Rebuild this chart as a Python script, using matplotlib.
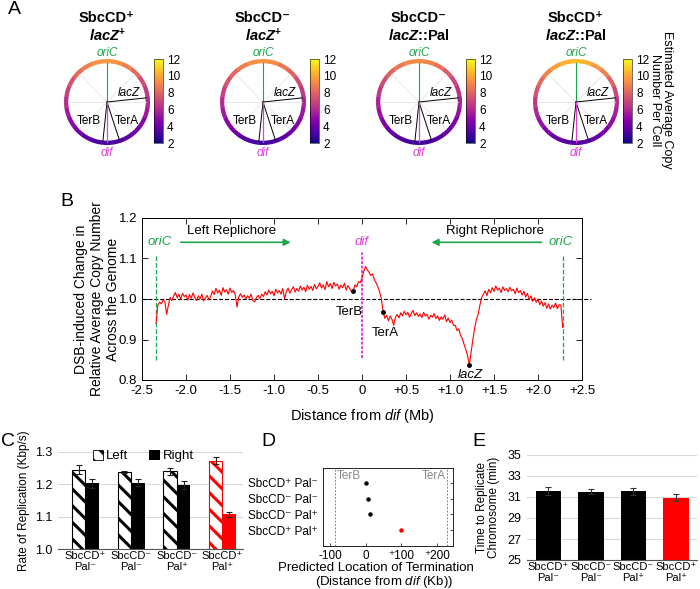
import numpy as np
import matplotlib
matplotlib.use('Agg')
import matplotlib.pyplot as plt
from matplotlib.patches import Wedge, Patch
from matplotlib.collections import PatchCollection
from matplotlib.colors import Normalize

plt.rcParams['font.family'] = ['Liberation Sans', 'DejaVu Sans']
plt.rcParams['mathtext.fontset'] = 'custom'
plt.rcParams['mathtext.rm'] = 'Liberation Sans'
plt.rcParams['mathtext.it'] = 'Liberation Sans:italic'
plt.rcParams['mathtext.bf'] = 'Liberation Sans:bold'
plt.rcParams['mathtext.bfit'] = 'Liberation Sans:bold:italic'
plt.rcParams['hatch.linewidth'] = 2.2

GREEN = '#1fa64a'
MAGENTA = '#e03ce0'

# ---------------- data ----------------
# panel A: titles and copy number around the chromosome (24 bins, clockwise from oriC)
title_top = ["SbcCD\u207a", "SbcCD\u207b", "SbcCD\u207b", "SbcCD\u207a"]
title_bot = [r"$\mathbfit{lacZ}^{\mathbf{+}}$", r"$\mathbfit{lacZ}^{\mathbf{+}}$",
             r"$\mathbfit{lacZ}$::Pal", r"$\mathbfit{lacZ}$::Pal"]
ring_sbc_lac = [9.6, 9.4, 8.8, 8.1, 7.3, 6.6, 6.0, 5.4, 4.8, 4.2, 3.7, 3.3,
                3.1, 3.3, 3.7, 4.3, 4.9, 5.5, 6.2, 6.8, 7.5, 8.2, 8.9, 9.4]
ring_nosbc_lac = [9.5, 9.2, 8.6, 8.0, 7.2, 6.5, 5.9, 5.3, 4.7, 4.1, 3.6, 3.2,
                  3.0, 3.2, 3.6, 4.2, 4.8, 5.4, 6.1, 6.8, 7.4, 8.1, 8.8, 9.3]
ring_nosbc_pal = [9.3, 9.0, 8.4, 7.7, 7.0, 6.3, 5.7, 5.1, 4.5, 4.0, 3.5, 3.1,
                  2.9, 3.1, 3.5, 4.0, 4.6, 5.2, 5.8, 6.5, 7.2, 7.9, 8.6, 9.1]
ring_sbc_pal = [10.6, 10.3, 9.6, 8.8, 8.0, 7.1, 6.2, 5.6, 5.0, 4.4, 3.9, 3.5,
                3.3, 3.5, 3.9, 4.5, 5.2, 5.9, 6.6, 7.4, 8.2, 9.0, 9.8, 10.3]
rings = [ring_sbc_lac, ring_nosbc_lac, ring_nosbc_pal, ring_sbc_pal]

# panel B: DSB-induced change in relative copy number (0.02 Mb bins from -2.34 Mb)
ratio = [
    0.940, 0.985, 0.992, 0.988, 0.998, 0.993, 0.962, 0.985, 1.004, 0.996,
    1.008, 1.016, 1.003, 1.012, 0.999, 1.014, 1.006, 1.010, 0.997, 1.011,
    1.002, 1.015, 1.004, 0.996, 1.008, 1.000, 1.012, 0.995, 1.003, 1.009,
    0.998, 1.006, 1.020, 1.011, 1.026, 1.015, 1.022, 1.009, 1.028, 1.017,
    1.023, 1.012, 1.027, 1.016, 1.021, 1.010, 0.980, 1.006, 1.013, 1.004,
    1.010, 1.000, 1.008, 1.002, 1.012, 0.996, 0.993, 1.003, 1.009, 1.001,
    1.012, 1.006, 1.018, 1.010, 1.022, 1.013, 1.019, 1.008, 1.024, 1.015,
    1.021, 1.012, 1.026, 1.000, 1.018, 1.027, 1.014, 1.023, 1.030, 1.017,
    1.026, 1.019, 1.032, 1.022, 1.029, 1.018, 1.034, 1.024, 1.031, 1.021,
    1.036, 1.025, 1.031, 1.040, 1.027, 1.035, 1.023, 1.043, 1.030, 1.038,
    1.026, 1.041, 1.032, 1.037, 1.024, 1.034, 1.028, 1.039, 1.022, 1.033,
    1.026, 1.018, 1.020, 1.035, 1.030, 1.043, 1.040, 1.052, 1.068, 1.080,
    1.072, 1.066, 1.058, 1.062, 1.048, 1.040, 1.030, 1.018, 1.000, 0.969,
    0.952, 0.960, 0.946, 0.958, 0.950, 0.935, 0.955, 0.962, 0.953, 0.966,
    0.958, 0.970, 0.961, 0.967, 0.955, 0.964, 0.972, 0.959, 0.966, 0.957,
    0.963, 0.954, 0.967, 0.958, 0.962, 0.950, 0.960, 0.955, 0.964, 0.952,
    0.958, 0.947, 0.956, 0.950, 0.961, 0.944, 0.953, 0.942, 0.948, 0.935,
    0.935, 0.922, 0.926, 0.910, 0.902, 0.888, 0.875, 0.860, 0.837, 0.868,
    0.900, 0.928, 0.950, 0.962, 0.985, 1.004, 1.012, 1.020, 1.008, 1.024,
    1.015, 1.028, 1.019, 1.032, 1.022, 1.027, 1.016, 1.030, 1.021, 1.026,
    1.018, 1.029, 1.020, 1.024, 1.013, 1.027, 1.016, 1.021, 1.010, 1.019,
    1.005, 1.014, 0.998, 1.008, 0.994, 1.003, 0.992, 1.000, 0.986, 0.995,
    0.982, 0.991, 0.977, 0.988, 0.975, 0.985, 0.979, 0.990, 0.976, 0.986,
    0.985, 0.930,
]
genome_x = np.linspace(-2.34, 2.28, len(ratio))
ori_left, ori_right = -2.34, 2.28
terb_pos, tera_pos, lacz_pos = -0.10, 0.24, 1.22

# panels C-E: strains
strains = ["SbcCD\u207a\nPal\u207b", "SbcCD\u207b\nPal\u207b",
           "SbcCD\u207b\nPal\u207a", "SbcCD\u207a\nPal\u207a"]
strains_1line = ["SbcCD\u207a Pal\u207b", "SbcCD\u207b Pal\u207b",
                 "SbcCD\u207b Pal\u207a", "SbcCD\u207a Pal\u207a"]
rate_left = [1.245, 1.238, 1.240, 1.273]
rate_left_err = [0.014, 0.002, 0.011, 0.010]
rate_right = [1.203, 1.205, 1.198, 1.107]
rate_right_err = [0.014, 0.011, 0.012, 0.008]
term_loc = [0, 7, 11, 98]
term_err = [4, 3, 3, 5]
terb_kb, tera_kb = -86, 228
rep_time = [31.55, 31.50, 31.55, 30.95]
rep_time_err = [0.40, 0.22, 0.32, 0.30]
bar_colors = ['black', 'black', 'black', 'red']

W, H = 700, 589
fig = plt.figure(figsize=(W / 100, H / 100), dpi=100)


def box(x0, y0, x1, y1):
    return [x0 / W, 1 - y1 / H, (x1 - x0) / W, (y1 - y0) / H]


def ftext(x, y, s, **kw):
    kw.setdefault('ha', 'center')
    kw.setdefault('va', 'center')
    return fig.text(x / W, 1 - y / H, s, **kw)


# ---------------- panel A ----------------
ftext(14, 10, 'A', fontsize=14)
norm = Normalize(2, 12)
centers = [107, 263, 419, 576]
cy = 102
for k, cx in enumerate(centers):
    ax = fig.add_axes(box(cx - 55, cy - 55, cx + 55, cy + 55))
    ax.set_xlim(-55 / 43, 55 / 43)
    ax.set_ylim(-55 / 43, 55 / 43)
    ax.axis('off')
    n = len(rings[k])
    step = 360 / n
    wedges = [Wedge((0, 0), 1.0, 90 - step * i - step / 2 - 0.3,
                    90 - step * i + step / 2 + 0.3, width=0.1) for i in range(n)]
    pc = PatchCollection(wedges, cmap='plasma', norm=norm, edgecolor='none')
    pc.set_array(np.array(rings[k]))
    ax.add_collection(pc)
    for a in range(0, 360, 45):
        r = np.deg2rad(a)
        ax.plot([0, 0.9 * np.sin(r)], [0, 0.9 * np.cos(r)], color='#e3e3e3', lw=0.6)
    ax.plot([0, 0], [0, 0.9], color=GREEN, lw=0.8)
    for ang in [84, 162, 186]:
        r = np.deg2rad(ang)
        ax.plot([0, 0.92 * np.sin(r)], [0, 0.92 * np.cos(r)], color='black', lw=0.7)
    ax.plot([0, 0], [0, -0.92], color=MAGENTA, lw=0.9)
    ax.text(0, 1.13, 'oriC', color=GREEN, style='italic', fontsize=8.5, ha='center', va='center')
    ax.text(0, -1.18, 'dif', color=MAGENTA, style='italic', fontsize=8.5, ha='center', va='center')
    ax.text(0.5, 0.22, 'lacZ', style='italic', fontsize=8.5, ha='center', va='center')
    ax.text(-0.43, -0.44, 'TerB', fontsize=8.5, ha='center', va='center')
    ax.text(0.45, -0.44, 'TerA', fontsize=8.5, ha='center', va='center')
    cax = fig.add_axes(box(cx + 47, 59, cx + 56, 143))
    cb = fig.colorbar(pc, cax=cax, ticks=[2, 4, 6, 8, 10, 12])
    cb.outline.set_linewidth(0.4)
    cax.tick_params(labelsize=8.5, length=0, pad=3)
    ftext(cx, 18, title_top[k], fontsize=10.5, fontweight='bold')
    ftext(cx, 36, title_bot[k], fontsize=10.5, fontweight='bold')
ftext(661, 100, 'Estimated Average Copy\nNumber Per Cell', rotation=270, fontsize=9,
      linespacing=1.0)

# ---------------- panel B ----------------
ftext(67, 202, 'B', fontsize=14)
axb = fig.add_axes(box(142, 218, 582, 380))
axb.plot([-2.5, 2.6], [1.0, 1.0], color='black', ls='--', lw=0.8, clip_on=False, zorder=1)
axb.plot([ori_left, ori_left], [0.85, 1.11], color=GREEN, ls='--', lw=0.9)
axb.plot([ori_right, ori_right], [0.85, 1.11], color=GREEN, ls='--', lw=0.9)
axb.plot([0, 0], [0.855, 1.115], color=MAGENTA, ls=(0, (1.5, 0.8)), lw=1.4)
axb.plot(genome_x, ratio, color='red', lw=0.8, zorder=3)
marks = [terb_pos, tera_pos, lacz_pos]
axb.plot(marks, np.interp(marks, genome_x, ratio), 'o', color='black', ms=2.5, zorder=4)
axb.text(-0.14, 0.969, 'TerB', fontsize=9.5, ha='center', va='center')
axb.text(0.26, 0.916, 'TerA', fontsize=9.5, ha='center', va='center')
axb.text(1.23, 0.812, 'lacZ', fontsize=9.5, style='italic', ha='center', va='center')
axb.text(-2.3, 1.14, 'oriC', color=GREEN, style='italic', fontsize=9.5, ha='center', va='center')
axb.text(2.26, 1.14, 'oriC', color=GREEN, style='italic', fontsize=9.5, ha='center', va='center')
axb.text(0, 1.14, 'dif', color=MAGENTA, style='italic', fontsize=9.5, ha='center', va='center')
axb.text(-1.48, 1.167, 'Left Replichore', fontsize=9.5, ha='center', va='center')
axb.text(1.51, 1.167, 'Right Replichore', fontsize=9.5, ha='center', va='center')
arrow = dict(arrowstyle='-|>', color=GREEN, lw=1.2, mutation_scale=10, shrinkA=0, shrinkB=0)
axb.annotate('', xy=(-0.81, 1.14), xytext=(-2.06, 1.14), arrowprops=arrow)
axb.annotate('', xy=(0.79, 1.14), xytext=(2.04, 1.14), arrowprops=arrow)
axb.set_xlim(-2.5, 2.5)
axb.set_ylim(0.8, 1.2)
bx = np.arange(-2.5, 2.51, 0.5)
axb.set_xticks(bx)
axb.set_xticklabels(['-2.5', '-2.0', '-1.5', '-1.0', '-0.5', '0',
                     '+0.5', '+1.0', '+1.5', '+2.0', '+2.5'])
axb.set_yticks([0.8, 0.9, 1.0, 1.1, 1.2])
axb.set_yticklabels(['0.8', '0.9', '1.0', '1.1', '1.2'])
axb.tick_params(direction='in', top=True, right=True, labelsize=9.5, length=4, width=0.6)
for s in axb.spines.values():
    s.set_linewidth(0.7)
axb.set_xlabel(r'Distance from $\mathit{dif}$ (Mb)', fontsize=10.5, labelpad=7)
ftext(97, 299, 'DSB-induced Change in\nRelative Average Copy Number\nAcross the Genome',
      rotation=90, fontsize=10, linespacing=1.15)

# ---------------- panel C ----------------
ftext(8, 441, 'C', fontsize=14)
axc = fig.add_axes(box(58, 452, 243, 549))
xc = np.arange(len(strains))
w = 0.295
for i in range(len(strains)):
    axc.bar(xc[i] - w / 2, rate_left[i], w, facecolor='white', edgecolor=bar_colors[i],
            hatch='\\\\', lw=0.8, zorder=2)
    axc.bar(xc[i] + w / 2, rate_right[i], w, color=bar_colors[i], zorder=2)
axc.errorbar(xc - w / 2, rate_left, yerr=rate_left_err, fmt='none', ecolor='#222222',
             elinewidth=0.8, capsize=2.5, capthick=0.8, zorder=3)
axc.errorbar(xc + w / 2, rate_right, yerr=rate_right_err, fmt='none', ecolor='#222222',
             elinewidth=0.8, capsize=2.5, capthick=0.8, zorder=3)
axc.set_xlim(-0.6, 3.45)
axc.set_ylim(1.0, 1.3)
axc.set_yticks([1.0, 1.1, 1.2, 1.3])
axc.set_yticklabels(['1.0', '1.1', '1.2', '1.3'])
axc.set_xticks(xc)
axc.set_xticklabels(strains, fontsize=8, linespacing=1.15)
axc.yaxis.grid(True, color='#d9d9d9', lw=0.8, zorder=0)
axc.set_axisbelow(True)
for s in ['left', 'top', 'right']:
    axc.spines[s].set_visible(False)
axc.spines['bottom'].set_color('#555555')
axc.tick_params(axis='y', length=0, labelsize=9, pad=4)
axc.tick_params(axis='x', length=0, pad=1.5)
axc.set_ylabel('Rate of Replication (Kbp/s)', fontsize=8.5, labelpad=4)
handles = [Patch(facecolor='white', edgecolor='black', hatch='\\\\', lw=0.6),
           Patch(facecolor='black')]
axc.legend(handles, ['Left', 'Right'], loc='upper left', bbox_to_anchor=(0.16, 1.08),
           ncol=2, frameon=False, fontsize=9.5, handlelength=0.8, handleheight=0.8,
           handletextpad=0.2, columnspacing=1.6, borderaxespad=0)

# ---------------- panel D ----------------
ftext(268, 442, 'D', fontsize=14)
axd = fig.add_axes(box(323, 468, 453, 546))
yd = np.arange(len(strains_1line))
axd.axvline(terb_kb, color='#888888', ls=(0, (2, 1.5)), lw=0.7)
axd.axvline(tera_kb, color='#888888', ls=(0, (2, 1.5)), lw=0.7)
for i in range(len(yd)):
    axd.errorbar(term_loc[i], yd[i], xerr=term_err[i], fmt='o', ms=2.2,
                 color=bar_colors[i], elinewidth=0.6, capsize=0)
axd.text(terb_kb + 3, -0.4, 'TerB', color='#888888', fontsize=8.5, ha='left', va='center')
axd.text(tera_kb - 3, -0.4, 'TerA', color='#888888', fontsize=8.5, ha='right', va='center')
axd.set_xlim(-121, 245)
axd.set_ylim(4.0, -0.93)
axd.set_xticks([-100, 0, 100, 200])
axd.set_xticklabels(['-100', '0', '\u207a100', '\u207a200'])
axd.set_yticks(yd)
axd.set_yticklabels(strains_1line)
axd.tick_params(axis='y', left=False, right=True, direction='in', length=2.5, width=0.5,
                labelsize=8.5, pad=4)
axd.tick_params(axis='x', direction='in', length=2, width=0.5, labelsize=8.5, pad=3)
for s in axd.spines.values():
    s.set_linewidth(0.6)
ftext(376, 568, 'Predicted Location of Termination', fontsize=9.5)
ftext(384, 582, r'(Distance from $\mathit{dif}$ (Kb))', fontsize=9.5)

# ---------------- panel E ----------------
ftext(479, 442, 'E', fontsize=14)
axe = fig.add_axes(box(527, 455, 697, 560))
xe = np.arange(len(strains))
axe.bar(xe, rep_time, 0.6, color=bar_colors, zorder=2)
axe.errorbar(xe, rep_time, yerr=rep_time_err, fmt='none', ecolor='#333333',
             elinewidth=0.8, capsize=2.5, capthick=0.8, zorder=3)
axe.set_xlim(-0.5, 3.5)
axe.set_ylim(25, 35)
axe.set_yticks([25, 27, 29, 31, 33, 35])
axe.set_xticks(xe)
axe.set_xticklabels(strains, fontsize=8, linespacing=1.15)
axe.yaxis.grid(True, color='#d9d9d9', lw=0.8, zorder=0)
axe.set_axisbelow(True)
for s in ['left', 'top', 'right']:
    axe.spines[s].set_visible(False)
axe.spines['bottom'].set_color('#555555')
axe.tick_params(axis='y', length=0, labelsize=9, pad=4)
axe.tick_params(axis='x', length=0, pad=1.5)
axe.set_ylabel('Time to Replicate\nChromosome (min)', fontsize=8.5, labelpad=5, linespacing=1.1)

fig.savefig('out.png', dpi=100)
